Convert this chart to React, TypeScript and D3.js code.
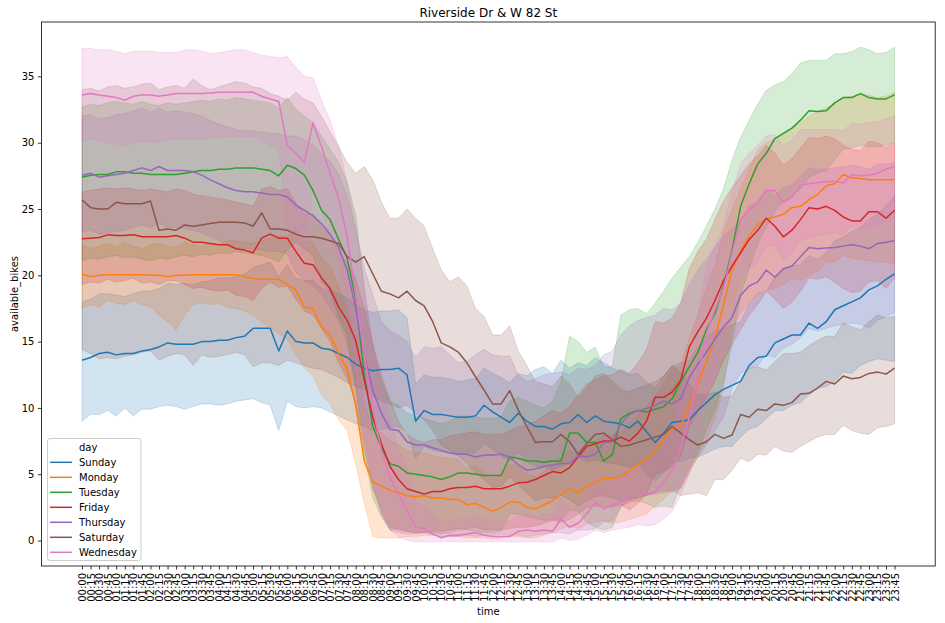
import React, { useEffect, useRef } from 'react';
import * as d3 from 'd3';

// time of day, every 15 minutes
const timeLabels = d3.range(96).map(
  (i) => `${String(Math.floor(i / 4)).padStart(2, '0')}:${String((i % 4) * 15).padStart(2, '0')}`
);
const yTicks = [0, 5, 10, 15, 20, 25, 30, 35];

// Sunday
const sundayMean = [
  13.6, 13.8, 14.1, 14.2, 14.0, 14.1, 14.1, 14.3, 14.4, 14.6, 14.9, 14.8, 14.8, 14.8, 15.0, 15.0, 15.1, 15.1, 15.3, 15.4, 16.0, 16.0, 16.0, 14.3, 15.8,
  15.0, 14.9, 14.9, 14.5, 14.4, 14.1, 13.8, 13.3, 13.0, 12.8, 12.9, 12.9, 13.0, 12.5, 9.0, 9.8, 9.5, 9.5, 9.4, 9.3, 9.3, 9.4, 10.2, 9.7, 9.3, 8.9,
  9.6, 9.0, 8.6, 8.6, 8.4, 8.8, 8.9, 9.5, 8.9, 9.4, 9.0, 8.9, 8.8, 8.5, 9.0, 8.2, 7.4, 8.1, 8.9, 9.0, 9.1, 9.8, 10.4, 11.0, 11.4,
  11.7, 12.0, 13.2, 13.8, 13.9, 14.9, 15.2, 15.5, 15.5, 16.4, 16.0, 16.5, 17.4, 17.7, 18.0, 18.3, 18.9, 19.2, 19.7, 20.1,
];
const sundayLow = [
  9.0, 9.5, 9.5, 9.8, 9.4, 10.0, 9.4, 9.9, 9.9, 10.1, 10.2, 10.1, 9.9, 10.1, 10.3, 10.3, 10.2, 10.3, 10.5, 10.6, 10.7, 10.4, 10.2, 8.3, 10.5,
  10.1, 10.0, 10.1, 10.0, 9.7, 9.4, 9.1, 8.8, 8.6, 8.3, 8.4, 8.5, 8.6, 8.2, 6.2, 7.1, 6.8, 6.7, 6.6, 6.5, 6.6, 6.6, 7.3, 6.9, 6.4, 6.0,
  6.6, 6.0, 5.6, 5.5, 5.3, 5.6, 5.8, 6.3, 5.9, 6.1, 5.9, 5.8, 5.7, 5.5, 5.8, 5.0, 4.5, 5.1, 5.8, 6.0, 6.2, 6.3, 6.6, 6.9, 7.1,
  7.1, 7.8, 8.4, 8.6, 9.2, 9.8, 9.8, 10.2, 10.4, 11.0, 11.5, 11.6, 12.0, 12.7, 12.6, 13.2, 13.5, 13.7, 13.6, 13.5,
];
const sundayHigh = [
  18.0, 18.2, 18.6, 18.6, 18.5, 18.4, 18.6, 18.8, 18.8, 19.0, 19.4, 19.3, 19.4, 19.3, 19.5, 19.6, 19.8, 19.8, 19.9, 20.1, 20.6, 20.8, 21.0, 19.9, 20.8,
  19.8, 19.6, 19.6, 19.0, 18.9, 18.6, 18.3, 17.8, 17.4, 17.2, 17.3, 17.3, 17.4, 16.8, 11.8, 12.5, 12.3, 12.3, 12.2, 12.0, 12.1, 12.2, 13.0, 12.6, 12.3, 11.9,
  12.6, 12.4, 12.9, 13.1, 12.6, 13.6, 13.0, 13.4, 13.2, 13.8, 13.4, 13.0, 12.8, 12.5, 12.6, 12.0, 11.5, 12.4, 13.2, 13.4, 13.6, 14.6, 15.3, 15.8, 16.0,
  16.3, 16.5, 17.9, 18.6, 18.8, 19.9, 20.4, 20.7, 20.8, 21.5, 21.2, 21.7, 22.6, 22.9, 23.3, 23.6, 24.2, 24.6, 25.2, 26.0,
];

// Monday
const mondayMean = [
  20.1, 19.9, 20.0, 20.05, 20.05, 20.05, 20.05, 20.05, 20.0, 20.0, 19.9, 20.0, 20.0, 20.05, 20.05, 20.05, 20.05, 20.05, 20.05, 19.9, 19.75, 19.7, 19.7, 19.7, 19.3,
  18.9, 17.6, 17.5, 16.1, 15.5, 14.1, 12.9, 10.2, 6.0, 4.4, 4.1, 3.8, 3.6, 3.4, 3.3, 3.4, 3.2, 3.2, 3.1, 3.1, 2.7, 2.8, 2.5, 2.2, 2.5, 2.9,
  2.9, 2.5, 2.4, 2.7, 3.0, 3.5, 3.9, 3.6, 4.1, 4.4, 4.7, 4.7, 4.8, 5.3, 5.7, 6.1, 6.8, 7.6, 8.4, 8.6, 10.3, 11.8, 13.5, 15.3, 17.8,
  20.4, 21.8, 23.0, 23.8, 24.25, 24.4, 24.6, 25.1, 25.2, 25.7, 26.1, 26.75, 26.9, 27.6, 27.35, 27.3, 27.2, 27.2, 27.2, 27.2,
];
const mondayLow = [
  17.5, 17.8, 17.6, 18.1, 17.9, 17.8, 18.1, 17.8, 17.6, 17.0, 16.5, 15.9, 17.0, 17.8, 17.9, 17.8, 17.9, 17.6, 17.5, 17.3, 17.0, 16.5, 16.0, 15.6, 15.2,
  14.0, 13.0, 12.4, 11.0, 10.3, 9.1, 8.3, 5.8, 2.8, 0.3, 0.2, 0.2, 0.2, 0.3, 0.3, 0.4, 0.4, 0.3, 0.3, 0.3, 0.2, 0.2, 0.2, 0.1, 0.2, 0.3,
  0.3, 0.2, 0.2, 0.4, 0.6, 0.9, 1.1, 0.9, 1.2, 1.4, 1.5, 1.3, 1.4, 1.6, 1.8, 2.0, 2.6, 3.1, 3.8, 4.0, 5.1, 6.3, 7.6, 9.2, 11.4,
  16.0, 17.1, 18.0, 18.6, 18.9, 19.0, 19.3, 19.8, 19.6, 20.0, 20.3, 21.0, 21.0, 21.5, 21.3, 21.2, 21.1, 21.0, 21.0, 20.8,
];
const mondayHigh = [
  22.3, 22.0, 22.2, 22.4, 22.1, 22.5, 22.2, 22.0, 22.3, 22.4, 22.2, 22.1, 22.5, 22.3, 22.2, 22.4, 22.3, 22.6, 22.6, 22.5, 22.4, 22.6, 22.8, 23.0, 22.9,
  23.5, 22.6, 22.5, 21.3, 20.7, 19.2, 17.6, 14.8, 10.2, 8.6, 8.1, 7.6, 7.2, 6.8, 6.6, 6.6, 6.4, 6.3, 6.2, 6.1, 5.5, 5.6, 5.1, 4.6, 5.0, 5.7,
  5.6, 5.0, 4.8, 5.2, 5.6, 6.3, 6.8, 6.4, 7.1, 7.5, 7.9, 8.0, 8.2, 8.9, 9.5, 10.1, 10.9, 11.9, 12.9, 13.2, 15.3, 17.1, 19.0, 20.8, 23.3,
  24.9, 26.5, 28.0, 29.5, 30.0, 30.3, 30.6, 31.1, 31.5, 32.0, 32.4, 32.6, 33.0, 33.4, 33.5, 33.7, 33.6, 33.4, 33.5, 33.8,
];

// Tuesday
const tuesdayMean = [
  27.4, 27.55, 27.6, 27.6, 27.8, 27.8, 27.7, 27.7, 27.6, 27.6, 27.6, 27.6, 27.7, 27.8, 27.9, 27.9, 28.0, 28.0, 28.1, 28.1, 28.1, 28.0, 27.9, 27.5, 28.3,
  28.05, 27.55, 26.4, 24.9, 24.2, 22.7, 21.3, 18.2, 12.5, 8.6, 7.0, 5.8, 5.6, 5.1, 5.0, 4.9, 4.8, 4.6, 4.8, 5.1, 5.1, 5.0, 4.9, 4.9, 4.9, 6.3,
  6.2, 6.0, 6.0, 5.9, 6.0, 6.0, 8.1, 8.1, 7.4, 7.4, 6.0, 6.5, 9.2, 9.6, 9.8, 9.7, 9.9, 10.1, 10.7, 12.0, 13.1, 14.2, 15.9, 17.1, 19.2,
  21.9, 25.2, 26.9, 28.4, 29.2, 30.3, 30.7, 31.1, 31.7, 32.4, 32.35, 32.4, 33.0, 33.4, 33.4, 33.7, 33.4, 33.3, 33.3, 33.6,
];
const tuesdayLow = [
  21.1, 21.3, 21.2, 21.4, 21.5, 21.3, 21.4, 21.2, 21.1, 21.3, 21.2, 21.4, 21.5, 21.4, 21.6, 21.5, 21.7, 21.6, 21.8, 21.7, 21.6, 21.5, 21.3, 21.0, 21.9,
  22.5, 22.0, 21.5, 19.5, 18.8, 16.8, 15.5, 11.5, 6.5, 3.2, 1.8, 0.8, 0.9, 0.7, 0.6, 0.6, 0.6, 0.5, 0.6, 0.8, 0.8, 0.7, 0.6, 0.6, 0.7, 2.0,
  2.0, 1.8, 1.7, 1.5, 1.6, 1.5, 2.3, 2.2, 1.4, 1.0, 0.8, 1.0, 2.6, 2.9, 3.0, 2.8, 2.5, 2.6, 2.5, 4.2, 5.5, 6.6, 8.4, 9.8, 12.0,
  14.8, 18.5, 20.5, 22.4, 23.6, 24.8, 25.6, 26.0, 26.5, 27.4, 27.7, 27.9, 28.7, 29.5, 29.6, 29.8, 29.7, 29.7, 29.8, 30.0,
];
const tuesdayHigh = [
  32.7, 32.9, 32.8, 33.0, 33.1, 33.0, 32.9, 33.1, 32.9, 32.8, 33.0, 32.9, 33.0, 33.1, 33.2, 33.1, 33.3, 33.2, 33.4, 33.3, 33.2, 33.1, 33.0, 32.6, 33.4,
  32.5, 32.0, 31.5, 30.5, 29.5, 28.5, 27.0, 24.5, 19.0, 14.5, 12.0, 10.5, 10.2, 9.6, 9.4, 9.2, 9.0, 8.8, 9.0, 9.4, 9.4, 9.3, 9.2, 9.2, 9.3, 10.5,
  10.8, 10.5, 10.2, 10.0, 10.5, 12.0, 15.4, 15.0, 14.2, 14.6, 13.1, 13.1, 17.0, 17.4, 17.5, 17.1, 17.9, 18.8, 19.8, 20.6, 21.4, 22.5, 23.7, 25.0, 26.5,
  28.7, 30.4, 31.7, 32.9, 33.95, 34.35, 34.6, 35.2, 36.0, 36.2, 36.2, 36.2, 36.7, 36.7, 36.86, 37.2, 37.0, 36.7, 36.8, 37.2,
];

// Friday
const fridayMean = [
  22.75, 22.8, 22.85, 23.05, 23.0, 23.0, 23.05, 22.9, 22.9, 22.9, 22.9, 23.0, 22.8, 22.5, 22.5, 22.4, 22.3, 22.3, 22.0, 21.9, 21.7, 22.8, 23.1, 22.8, 22.8,
  21.8, 20.9, 20.8, 19.8, 19.0, 17.6, 16.6, 15.1, 12.1, 9.3, 7.3, 5.6, 4.6, 3.9, 3.7, 3.5, 3.7, 3.7, 3.9, 4.0, 4.0, 4.1, 3.9, 3.9, 3.9, 4.1,
  4.35, 4.4, 4.6, 4.9, 5.2, 5.1, 5.5, 6.3, 7.1, 7.3, 7.5, 7.5, 7.8, 7.5, 8.1, 9.0, 10.8, 10.8, 11.2, 12.1, 14.6, 15.75, 16.75, 18.1, 19.6,
  20.7, 21.7, 22.7, 23.4, 24.3, 23.7, 22.9, 23.4, 24.2, 25.1, 25.0, 25.2, 24.9, 24.4, 24.1, 24.1, 24.8, 24.8, 24.3, 24.9,
];
const fridayLow = [
  19.3, 19.5, 19.4, 19.7, 19.5, 19.6, 19.8, 19.4, 19.5, 19.3, 19.6, 19.6, 19.3, 19.0, 19.1, 18.9, 18.8, 18.9, 18.5, 18.4, 18.1, 19.0, 19.5, 19.1, 19.2,
  18.2, 17.3, 17.0, 16.0, 15.0, 13.4, 12.2, 10.4, 6.9, 3.9, 2.3, 1.0, 0.8, 0.7, 0.6, 0.6, 0.7, 0.7, 0.8, 0.9, 0.9, 1.0, 0.8, 0.8, 0.8, 0.9,
  1.0, 1.0, 1.1, 1.3, 1.5, 1.4, 1.6, 2.0, 2.5, 2.6, 2.6, 2.5, 2.7, 2.3, 2.8, 3.5, 5.0, 5.2, 5.6, 6.3, 8.6, 9.7, 10.8, 12.0, 13.6,
  14.8, 15.9, 17.0, 17.8, 18.8, 18.2, 17.5, 18.0, 18.8, 19.8, 19.7, 19.9, 19.5, 19.0, 18.7, 18.8, 19.5, 19.6, 19.0, 19.8,
];
const fridayHigh = [
  26.3, 26.4, 26.5, 26.6, 26.5, 26.6, 26.5, 26.4, 26.5, 26.4, 26.3, 26.5, 26.4, 26.1, 26.0, 25.9, 25.8, 25.7, 25.5, 25.4, 25.2, 26.5, 26.7, 26.4, 26.5,
  25.5, 24.6, 24.6, 23.7, 23.0, 21.8, 21.0, 19.8, 17.5, 14.8, 12.5, 10.6, 9.0, 8.0, 7.6, 7.4, 7.6, 7.6, 7.9, 8.0, 8.1, 8.2, 8.0, 8.0, 8.0, 8.3,
  8.6, 8.7, 9.0, 9.4, 9.8, 9.6, 10.1, 11.0, 11.8, 12.1, 12.4, 12.5, 12.9, 12.6, 13.4, 14.4, 16.5, 16.4, 16.8, 17.9, 20.5, 21.8, 22.7, 24.2, 25.6,
  26.6, 27.5, 28.4, 29.0, 29.8, 29.2, 28.3, 28.8, 29.6, 30.4, 30.3, 30.5, 30.3, 29.8, 29.5, 29.4, 30.1, 30.0, 29.6, 30.0,
];

// Thursday
const thursdayMean = [
  27.55, 27.7, 27.4, 27.5, 27.6, 27.7, 27.9, 28.1, 27.9, 28.2, 27.9, 27.9, 27.9, 27.8, 27.55, 27.2, 26.9, 26.6, 26.4, 26.3, 26.3, 26.2, 26.1, 26.1, 25.9,
  25.3, 24.9, 24.5, 23.9, 23.1, 22.1, 20.4, 17.5, 14.0, 11.3, 9.6, 8.4, 8.3, 7.45, 7.2, 7.2, 7.0, 6.8, 6.6, 6.5, 6.5, 6.3, 6.45, 6.45, 6.5, 6.3,
  5.7, 5.3, 5.4, 5.6, 5.7, 5.8, 5.8, 6.4, 6.3, 6.5, 7.4, 7.45, 8.8, 9.5, 9.8, 9.96, 10.2, 10.5, 10.3, 10.7, 12.3, 13.3, 14.2, 15.2, 16.1,
  16.8, 18.5, 19.2, 19.5, 20.4, 19.85, 20.5, 20.7, 21.4, 22.1, 22.0, 22.05, 22.1, 22.2, 22.3, 22.2, 22.0, 22.4, 22.5, 22.6,
];
const thursdayLow = [
  23.3, 23.4, 23.1, 23.2, 23.3, 23.4, 23.6, 23.8, 23.6, 23.9, 23.6, 23.6, 23.5, 23.4, 23.2, 22.9, 22.6, 22.3, 22.1, 22.0, 22.0, 21.9, 21.8, 21.8, 21.6,
  20.2, 19.6, 19.2, 18.6, 17.6, 16.6, 14.8, 11.5, 7.5, 4.1, 2.0, 0.8, 0.6, 0.5, 0.5, 0.6, 0.4, 0.3, 0.3, 0.3, 0.4, 0.3, 0.4, 0.4, 0.5, 0.4,
  0.4, 0.3, 0.4, 0.5, 0.6, 0.6, 0.5, 0.8, 0.8, 0.9, 1.4, 1.5, 2.5, 3.0, 3.3, 3.4, 3.6, 3.8, 3.6, 3.9, 5.3, 6.3, 7.2, 8.3, 9.3,
  11.5, 12.6, 13.0, 13.2, 14.0, 13.8, 14.5, 14.8, 15.3, 16.0, 15.8, 16.0, 16.2, 16.3, 16.4, 16.3, 16.0, 16.6, 16.9, 17.2,
];
const thursdayHigh = [
  32.0, 32.1, 31.8, 31.9, 32.1, 32.2, 32.4, 32.6, 32.3, 32.6, 32.3, 32.4, 32.3, 32.2, 32.0, 31.7, 31.4, 31.2, 31.0, 30.9, 30.9, 30.8, 30.7, 30.7, 30.5,
  30.5, 30.2, 29.8, 29.2, 28.6, 27.6, 26.0, 23.5, 20.5, 18.5, 16.5, 15.8, 15.5, 15.0, 13.8, 14.6, 14.5, 14.6, 14.0, 13.4, 13.5, 14.0, 14.4, 14.0, 13.9, 13.9,
  12.5, 12.0, 12.2, 12.5, 12.6, 12.7, 12.5, 13.0, 12.9, 13.2, 14.0, 14.3, 15.5, 16.2, 16.6, 16.8, 17.0, 17.5, 17.4, 17.9, 19.3, 20.4, 21.2, 22.1, 23.0,
  23.5, 24.2, 25.2, 25.6, 26.5, 26.0, 26.6, 26.8, 27.4, 28.1, 28.0, 28.0, 28.1, 28.2, 28.3, 28.2, 28.0, 28.4, 28.4, 28.5,
];

// Saturday
const saturdayMean = [
  25.7, 25.1, 25.0, 25.0, 25.5, 25.4, 25.4, 25.4, 25.6, 23.4, 23.5, 23.4, 23.8, 23.7, 23.8, 23.9, 24.0, 24.0, 24.0, 23.95, 23.7, 24.7, 23.5, 23.5, 23.4,
  23.1, 22.9, 22.9, 22.8, 22.6, 22.4, 21.4, 21.0, 21.4, 20.1, 18.8, 18.6, 18.3, 18.8, 18.1, 17.7, 16.5, 14.9, 14.6, 14.2, 13.4, 12.35, 11.35, 10.3, 10.3, 11.3,
  9.85, 8.6, 7.4, 7.45, 7.45, 8.0, 7.45, 6.5, 7.3, 8.0, 8.1, 7.6, 7.1, 7.2, 7.4, 7.6, 7.8, 8.0, 8.6, 8.1, 7.6, 7.2, 7.45, 8.0, 7.7,
  7.96, 9.5, 9.3, 9.9, 9.8, 10.3, 10.2, 10.4, 11.05, 11.1, 11.5, 12.0, 11.8, 12.4, 12.2, 12.3, 12.6, 12.7, 12.55, 13.0,
];
const saturdayLow = [
  14.4, 14.1, 13.7, 13.8, 13.7, 13.9, 14.0, 14.2, 14.3, 13.6, 13.9, 14.1, 14.0, 13.2, 14.0, 13.8, 13.9, 14.0, 14.2, 14.0, 13.1, 13.4, 13.4, 13.2, 13.6,
  13.4, 13.2, 13.0, 12.9, 12.6, 12.3, 11.9, 11.6, 11.4, 10.9, 10.5, 10.3, 10.0, 10.2, 9.6, 9.1, 8.3, 7.2, 6.8, 6.4, 5.8, 5.1, 4.6, 4.0, 4.1, 4.8,
  4.2, 3.6, 3.0, 3.2, 3.2, 3.4, 3.1, 2.6, 3.0, 3.3, 3.4, 3.2, 3.0, 3.1, 3.2, 3.4, 3.5, 3.6, 3.8, 3.4, 3.5, 3.6, 3.4, 4.6, 4.6,
  5.3, 6.2, 5.95, 6.5, 6.45, 7.1, 6.75, 6.65, 7.1, 7.45, 7.8, 8.0, 8.0, 8.7, 8.3, 8.1, 8.0, 8.5, 8.6, 8.8,
];
const saturdayHigh = [
  34.0, 34.1, 33.9, 34.2, 34.3, 34.1, 34.2, 34.4, 34.5, 34.0, 34.2, 34.3, 34.1, 34.8, 34.3, 34.0, 34.2, 34.4, 34.6, 34.5, 34.2, 34.1, 33.7, 33.5, 33.2,
  33.8, 33.3, 33.0, 32.0, 30.8, 29.7, 28.5, 27.7, 28.2, 27.2, 25.5, 24.3, 24.3, 25.0, 24.3, 23.7, 22.0, 20.4, 19.5, 19.9, 19.2, 17.5, 16.9, 15.5, 15.5, 16.2,
  14.3, 13.2, 12.0, 11.8, 11.6, 12.4, 11.8, 10.8, 11.5, 12.4, 12.6, 12.0, 11.4, 11.2, 11.5, 11.7, 12.0, 12.4, 13.2, 12.7, 11.8, 11.0, 11.0, 11.2, 10.8,
  10.9, 12.0, 13.0, 13.1, 12.85, 13.5, 14.1, 14.1, 14.2, 14.7, 15.1, 15.4, 15.4, 16.4, 16.1, 15.9, 16.5, 17.0, 16.8, 16.9,
];

// Wednesday
const wednesdayMean = [
  33.6, 33.7, 33.6, 33.5, 33.4, 33.2, 33.5, 33.6, 33.6, 33.5, 33.6, 33.7, 33.7, 33.7, 33.7, 33.75, 33.8, 33.8, 33.8, 33.8, 33.8, 33.5, 33.3, 33.1, 29.8,
  29.2, 28.5, 31.5, 29.7, 27.7, 25.8, 22.9, 18.5, 14.0, 10.0, 6.8, 4.8, 3.5, 2.3, 1.0, 0.9, 0.5, 0.2, 0.4, 0.4, 0.5, 0.6, 0.4, 0.3, 0.3, 0.3,
  0.7, 0.8, 0.7, 0.8, 0.7, 1.6, 1.0, 1.3, 2.0, 2.85, 2.4, 2.7, 2.9, 3.2, 3.5, 3.5, 3.7, 4.4, 5.3, 7.1, 9.3, 12.3, 15.6, 17.4, 19.0,
  21.7, 24.2, 24.9, 25.4, 26.4, 26.4, 25.5, 25.9, 26.8, 26.9, 27.0, 27.05, 27.1, 26.97, 27.6, 27.5, 27.55, 27.7, 28.0, 28.2,
];
const wednesdayLow = [
  30.1, 30.3, 30.2, 30.0, 29.9, 29.7, 30.0, 30.1, 30.1, 30.0, 30.2, 30.3, 30.2, 30.3, 30.2, 30.4, 30.4, 30.4, 30.5, 30.4, 30.5, 30.1, 29.8, 29.6, 23.5,
  22.5, 22.0, 26.5, 24.8, 22.9, 21.3, 17.8, 12.5, 8.0, 4.5, 2.0, 0.8, 0.3, 0.0, -0.1, -0.1, -0.1, -0.1, -0.1, -0.1, -0.1, -0.1, -0.1, -0.1, -0.1, -0.1,
  -0.1, -0.1, -0.1, -0.1, -0.1, 0.2, 0.0, 0.1, 0.4, 0.8, 0.6, 0.8, 0.9, 1.0, 1.2, 1.1, 1.2, 1.6, 2.2, 3.4, 5.0, 7.6, 10.6, 12.6, 14.3,
  17.0, 19.9, 20.5, 21.0, 22.3, 22.2, 21.2, 21.6, 22.6, 22.8, 23.0, 23.1, 23.2, 23.0, 23.7, 23.6, 23.6, 23.8, 24.2, 24.4,
];
const wednesdayHigh = [
  37.1, 37.1, 37.0, 37.0, 36.9, 36.7, 36.9, 36.9, 36.9, 36.8, 36.8, 36.8, 37.0, 37.0, 36.9, 36.7, 36.8, 36.9, 37.0, 37.0, 36.8, 36.6, 36.5, 36.4, 36.5,
  35.7, 35.0, 34.9, 33.2, 31.7, 29.7, 27.0, 23.5, 19.0, 15.0, 11.5, 9.0, 7.0, 5.5, 3.0, 2.6, 2.0, 1.3, 1.5, 1.6, 1.6, 1.8, 1.6, 1.4, 1.4, 1.5,
  2.0, 2.0, 1.8, 2.0, 1.9, 3.2, 2.4, 2.7, 3.5, 4.9, 4.3, 4.7, 5.0, 5.3, 5.8, 5.9, 6.1, 7.2, 8.4, 10.8, 13.6, 17.0, 20.6, 22.2, 23.7,
  26.4, 28.4, 29.2, 29.8, 30.5, 30.6, 29.8, 30.2, 31.0, 31.0, 31.0, 31.0, 31.0, 30.9, 31.5, 31.4, 31.5, 31.6, 31.8, 32.0,
];

const series = [
  { day: 'Sunday', color: '#1f77b4', mean: sundayMean, low: sundayLow, high: sundayHigh },
  { day: 'Monday', color: '#ff7f0e', mean: mondayMean, low: mondayLow, high: mondayHigh },
  { day: 'Tuesday', color: '#2ca02c', mean: tuesdayMean, low: tuesdayLow, high: tuesdayHigh },
  { day: 'Friday', color: '#d62728', mean: fridayMean, low: fridayLow, high: fridayHigh },
  { day: 'Thursday', color: '#9467bd', mean: thursdayMean, low: thursdayLow, high: thursdayHigh },
  { day: 'Saturday', color: '#8c564b', mean: saturdayMean, low: saturdayLow, high: saturdayHigh },
  { day: 'Wednesday', color: '#e377c2', mean: wednesdayMean, low: wednesdayLow, high: wednesdayHigh },
];

const FONT = '"DejaVu Sans", Verdana, sans-serif';

const App = () => {
  const svgRef = useRef<SVGSVGElement>(null);

  useEffect(() => {
    const svg = d3.select(svgRef.current);
    svg.selectAll('*').remove();

    const left = 41.4, right = 935.2, top = 22, bottom = 566;

    const x = d3.scaleLinear().domain([-4.75, 99.75]).range([left, right]);
    const y = d3.scaleLinear().domain([-1.92, 39.1]).range([bottom, top]);

    svg.append('rect').attr('width', 945).attr('height', 623).attr('fill', '#fff');

    // bands sit below every line (matplotlib puts collections under lines)
    const bands = svg.append('g');
    const lines = svg.append('g');

    series.forEach((s) => {
      const line = d3.line<number>()
        .x((d, i) => x(i))
        .y((d) => y(d));
      const area = d3.area<number>()
        .x((d, i) => x(i))
        .y0((d, i) => y(s.low[i]))
        .y1((d, i) => y(s.high[i]));

      bands.append('path')
        .datum(s.mean)
        .attr('d', area)
        .attr('fill', s.color)
        .attr('fill-opacity', 0.2)
        .attr('stroke', s.color)
        .attr('stroke-opacity', 0.2)
        .attr('stroke-width', 1);

      lines.append('path')
        .datum(s.mean)
        .attr('d', line)
        .attr('fill', 'none')
        .attr('stroke', s.color)
        .attr('stroke-width', 1.5)
        .attr('stroke-linejoin', 'round');
    });

    // frame
    svg.append('rect')
      .attr('x', left).attr('y', top)
      .attr('width', right - left).attr('height', bottom - top)
      .attr('fill', 'none').attr('stroke', '#000').attr('stroke-width', 0.8);

    // x axis
    const xAxis = svg.append('g')
      .attr('transform', `translate(0,${bottom})`)
      .call(d3.axisBottom(x)
        .tickValues(d3.range(96))
        .tickFormat((i) => timeLabels[i as number])
        .tickSize(3.5)
        .tickSizeOuter(0));
    xAxis.select('.domain').remove();
    xAxis.selectAll('.tick line').attr('stroke', '#000').attr('stroke-width', 0.8);
    xAxis.selectAll('.tick text')
      .attr('transform', 'rotate(-90)')
      .attr('x', -7)
      .attr('y', 0)
      .attr('dy', '0.35em')
      .style('text-anchor', 'end')
      .style('font-family', FONT)
      .style('font-size', '10px')
      .attr('fill', '#000');

    // y axis
    const yAxis = svg.append('g')
      .attr('transform', `translate(${left},0)`)
      .call(d3.axisLeft(y).tickValues(yTicks).tickSize(3.5).tickPadding(3.5));
    yAxis.select('.domain').remove();
    yAxis.selectAll('.tick line').attr('stroke', '#000').attr('stroke-width', 0.8);
    yAxis.selectAll('.tick text')
      .style('font-family', FONT)
      .style('font-size', '10px')
      .attr('fill', '#000');

    // labels
    svg.append('text')
      .attr('x', (left + right) / 2).attr('y', 16.5)
      .attr('text-anchor', 'middle')
      .style('font-family', FONT).style('font-size', '12px')
      .text('Riverside Dr & W 82 St');

    svg.append('text')
      .attr('x', (left + right) / 2).attr('y', 615)
      .attr('text-anchor', 'middle')
      .style('font-family', FONT).style('font-size', '10px')
      .text('time');

    svg.append('text')
      .attr('transform', `translate(17.5,${(top + bottom) / 2}) rotate(-90)`)
      .attr('text-anchor', 'middle')
      .style('font-family', FONT).style('font-size', '10px')
      .text('available_bikes');

    // legend
    const lg = svg.append('g');
    lg.append('rect')
      .attr('x', 47.5).attr('y', 438.5)
      .attr('width', 93.5).attr('height', 122)
      .attr('rx', 2.5)
      .attr('fill', '#fff').attr('fill-opacity', 0.8)
      .attr('stroke', '#cccccc').attr('stroke-width', 1);

    lg.append('text')
      .attr('x', 79).attr('y', 447).attr('dy', '0.35em')
      .style('font-family', FONT).style('font-size', '10px')
      .text('day');

    series.forEach((s, k) => {
      const cy = 462.3 + k * 15;
      lg.append('line')
        .attr('x1', 50).attr('x2', 72)
        .attr('y1', cy).attr('y2', cy)
        .attr('stroke', s.color).attr('stroke-width', 1.5);
      lg.append('text')
        .attr('x', 79).attr('y', cy).attr('dy', '0.35em')
        .style('font-family', FONT).style('font-size', '10px')
        .text(s.day);
    });
  }, []);

  return (
    <svg
      ref={svgRef}
      width={945}
      height={623}
      style={{ position: 'absolute', left: 0, top: 0 }}
    />
  );
};

export default App;
